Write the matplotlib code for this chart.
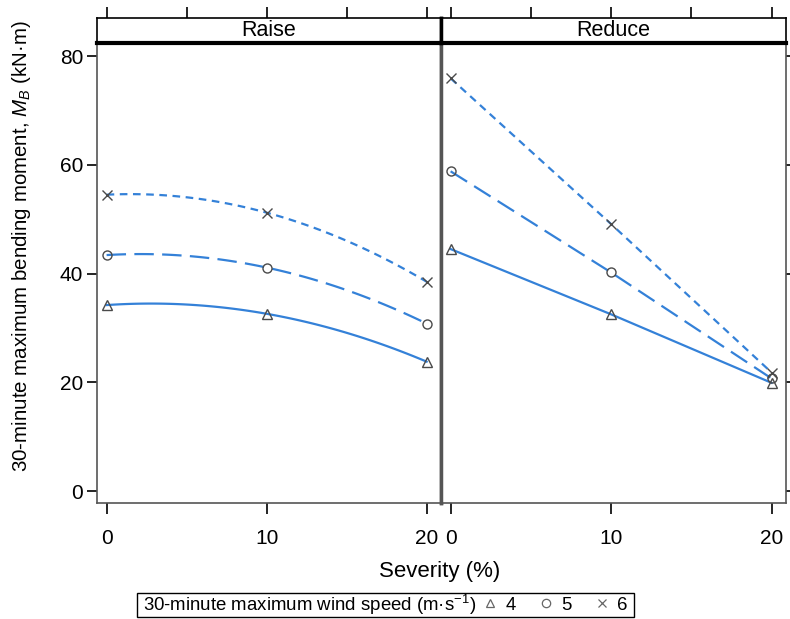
import numpy as np
import matplotlib
matplotlib.use('Agg')
import matplotlib.pyplot as plt
from matplotlib.lines import Line2D
from matplotlib.patches import Rectangle

plt.rcParams['font.family'] = ['Liberation Sans', 'DejaVu Sans']
plt.rcParams['mathtext.fontset'] = 'custom'
plt.rcParams['mathtext.rm'] = 'Liberation Sans'
plt.rcParams['mathtext.it'] = 'Liberation Sans:italic'
plt.rcParams['lines.scale_dashes'] = False

# data
severity = [0, 10, 20]
panels = ['Raise', 'Reduce']
wind_speeds = ['4', '5', '6']
raise_values = {
    '4': [34.2, 32.6, 23.8],
    '5': [43.4, 41.1, 30.8],
    '6': [54.5, 51.2, 38.5],
}
reduce_values = {
    '4': [44.5, 32.5, 19.9],
    '5': [58.8, 40.2, 20.7],
    '6': [75.9, 49.1, 21.8],
}
x_ticks = [0, 10, 20]
top_ticks = [0, 5, 10, 15, 20]
y_ticks = [0, 20, 40, 60, 80]

line_color = '#3481d8'
mark_color = '#4a4a4a'
styles = {
    '4': dict(marker='^', linestyle='-'),
    '5': dict(marker='o', dashes=(14, 6)),
    '6': dict(marker='x', dashes=(5.5, 4)),
}
frame_color = '#555555'

fig = plt.figure(figsize=(7.9, 6.19), dpi=100)
W, H = 790, 619


def fbox(x0, y0, x1, y1):
    return [x0 / W, 1 - y1 / H, (x1 - x0) / W, (y1 - y0) / H]


bounds = [(97, 441), (441, 786)]
for i, (name, vals) in enumerate(zip(panels, [raise_values, reduce_values])):
    x0, x1 = bounds[i]
    ax = fig.add_axes(fbox(x0, 43, x1, 503))
    for w in wind_speeds:
        y = vals[w]
        st = dict(styles[w])
        marker = st.pop('marker')
        if name == 'Raise':
            coef = np.polyfit(severity, y, 2)
            xs = np.linspace(0, 20, 100)
            ax.plot(xs, np.polyval(coef, xs), color=line_color, lw=1.6, **st)
        else:
            ax.plot(severity, y, color=line_color, lw=1.6, **st)
        ax.plot(severity, y, linestyle='none', marker=marker, ms=6.5,
                mfc='none', mec=mark_color, mew=1.0)
    ax.set_xlim(-0.6, 20.9)
    ax.set_ylim(-2.2, 82.4)
    ax.set_xticks(x_ticks)
    ax.set_yticks(y_ticks)
    for s in ax.spines.values():
        s.set_color(frame_color)
        s.set_linewidth(1.2)
    ax.tick_params(axis='x', direction='out', length=8, width=1.2, pad=11,
                   labelsize=15, color='black')
    if i == 0:
        ax.spines['right'].set_linewidth(2.5)
        ax.tick_params(axis='y', direction='out', length=7, width=1.2,
                       labelsize=15, left=True, right=False, pad=3)
    else:
        ax.spines['left'].set_linewidth(2.5)
        ax.tick_params(axis='y', direction='out', length=7, width=1.2,
                       left=False, labelleft=False, right=True)
    # strip
    sx = fig.add_axes(fbox(x0, 18, x1, 43))
    sx.set_xlim(ax.get_xlim())
    sx.set_ylim(0, 1)
    sx.set_yticks([])
    sx.set_xticks(top_ticks)
    sx.tick_params(axis='x', bottom=False, labelbottom=False, top=True,
                   direction='out', length=8, width=1.2)
    for s in sx.spines.values():
        s.set_color('black')
        s.set_linewidth(1.2)
    sx.spines['bottom'].set_linewidth(3)
    if i == 0:
        sx.spines['right'].set_linewidth(2.5)
    else:
        sx.spines['left'].set_linewidth(2.5)
    sx.text(0.5, 0.5, name, transform=sx.transAxes, ha='center', va='center',
            fontsize=15.5)

fig.text(440 / W, 1 - 572 / H, 'Severity (%)', ha='center', va='center',
         fontsize=16)
fig.text(22 / W, 1 - 246 / H,
         '30-minute maximum bending moment, $M_B$ (kN\u00b7m)',
         rotation=90, ha='center', va='center', fontsize=14.8)

# key below the panels
fig.patches.append(Rectangle((137 / W, 1 - 617 / H), 497 / W, 24 / H,
                             transform=fig.transFigure, fill=False,
                             edgecolor='black', lw=1.0))
fig.text(143 / W, 1 - 605 / H, '30-minute maximum wind speed (m\u00b7s$^{-1}$)',
         ha='left', va='center', fontsize=13.4)
handles = [Line2D([], [], linestyle='none', marker=styles[w]['marker'],
                  ms=6, mfc='none', mec='#666666', mew=0.9) for w in wind_speeds]
fig.legend(handles, wind_speeds, loc='center right',
           bbox_to_anchor=(628 / W, 1 - 605 / H), ncol=3, fontsize=13.4,
           frameon=False, handlelength=0.8, handletextpad=0.45,
           columnspacing=1.2, borderpad=0, borderaxespad=0)

fig.savefig('out.png', dpi=100)
